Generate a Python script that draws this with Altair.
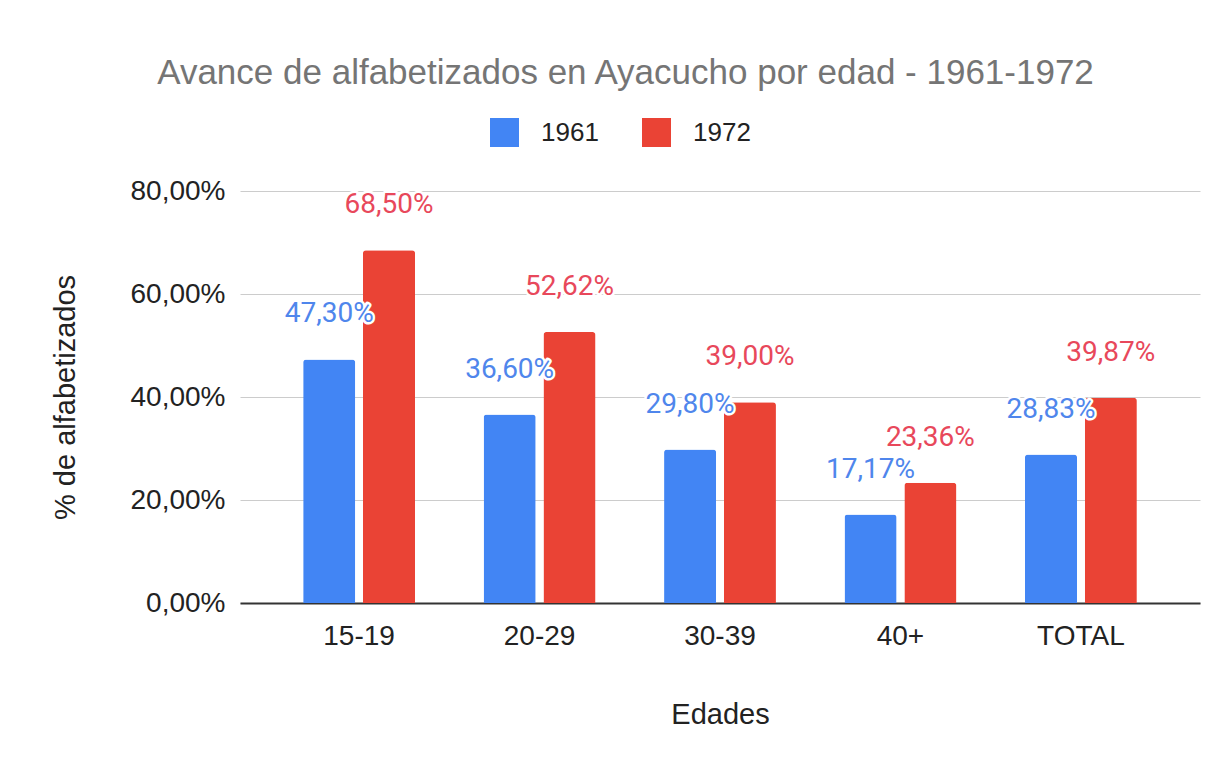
import altair as alt
import pandas as pd

edades = ["15-19", "20-29", "30-39", "40+", "TOTAL"]
anios = ["1961", "1972"]
v1961 = [47.30, 36.60, 29.80, 17.17, 28.83]
v1972 = [68.50, 52.62, 39.00, 23.36, 39.87]
bar_colors = ["#4285f4", "#ea4335"]
label_colors = ["#4f86ec", "#e8485b"]
y_ticks = [0, 20, 40, 60, 80]

rows = []
for i, e in enumerate(edades):
    rows.append({"edad": e, "anio": anios[0], "valor": v1961[i], "tcolor": label_colors[0]})
    rows.append({"edad": e, "anio": anios[1], "valor": v1972[i], "tcolor": label_colors[1]})
df = pd.DataFrame(rows)

base = alt.Chart(df).encode(
    x=alt.X(
        "edad:N",
        sort=edades,
        scale=alt.Scale(paddingInner=0.38, paddingOuter=0.35),
        axis=alt.Axis(
            title="Edades",
            labelAngle=0,
            labelFontSize=28,
            labelColor="#222222",
            labelPadding=19,
            ticks=False,
            domain=True,
            domainColor="#333333",
            domainWidth=2,
            titleFontSize=29,
            titleFontWeight="normal",
            titleColor="#222222",
            titlePadding=50,
        ),
    ),
    xOffset=alt.XOffset("anio:N", sort=anios, scale=alt.Scale(paddingInner=0.13)),
    y=alt.Y(
        "valor:Q",
        scale=alt.Scale(domain=[0, 80], nice=False),
        axis=alt.Axis(
            title="% de alfabetizados",
            values=y_ticks,
            labelExpr="replace(format(datum.value, '.2f'), '.', ',') + '%'",
            labelFontSize=28,
            labelColor="#222222",
            labelPadding=15,
            ticks=False,
            domain=False,
            gridColor="#cccccc",
            gridWidth=1,
            titleFontSize=29,
            titleFontWeight="normal",
            titleColor="#222222",
            titlePadding=50,
        ),
    ),
)

bars = base.mark_bar(cornerRadiusTopLeft=3, cornerRadiusTopRight=3).encode(
    color=alt.Color(
        "anio:N",
        sort=anios,
        scale=alt.Scale(domain=anios, range=bar_colors),
        legend=alt.Legend(
            title=None,
            orient="none",
            legendX=250,
            legendY=-73,
            direction="horizontal",
            symbolType="square",
            symbolSize=841,
            symbolStrokeWidth=0,
            labelFontSize=26,
            labelColor="#222222",
            labelOffset=22,
            columnPadding=43,
            padding=0,
        ),
    )
)

label_expr = "replace(format(datum.valor, '.2f'), '.', ',') + '%'"

halo = base.mark_text(
    dy=-45, baseline="middle", fontSize=28, font="Roboto",
    stroke="white", strokeWidth=5, strokeJoin="round", fill="white",
).transform_calculate(lbl=label_expr).encode(text="lbl:N")

labels = base.mark_text(
    dy=-45, baseline="middle", fontSize=28, font="Roboto",
).transform_calculate(lbl=label_expr).encode(
    text="lbl:N",
    color=alt.Color("tcolor:N", scale=None),
)

chart = (
    alt.layer(bars, halo, labels)
    .properties(
        width=960,
        height=412,
        title=alt.TitleParams(
            "Avance de alfabetizados en Ayacucho por edad - 1961-1972",
            fontSize=35,
            fontWeight="normal",
            color="#757575",
            anchor="middle",
            frame="bounds",
            offset=27,
        ),
        padding={"left": 43, "top": 48, "right": 5, "bottom": 4},
    )
    .configure(font="Liberation Sans")
    .configure_view(stroke=None)
)

chart.save("out.html", embed_options={"renderer": "svg", "actions": False})
